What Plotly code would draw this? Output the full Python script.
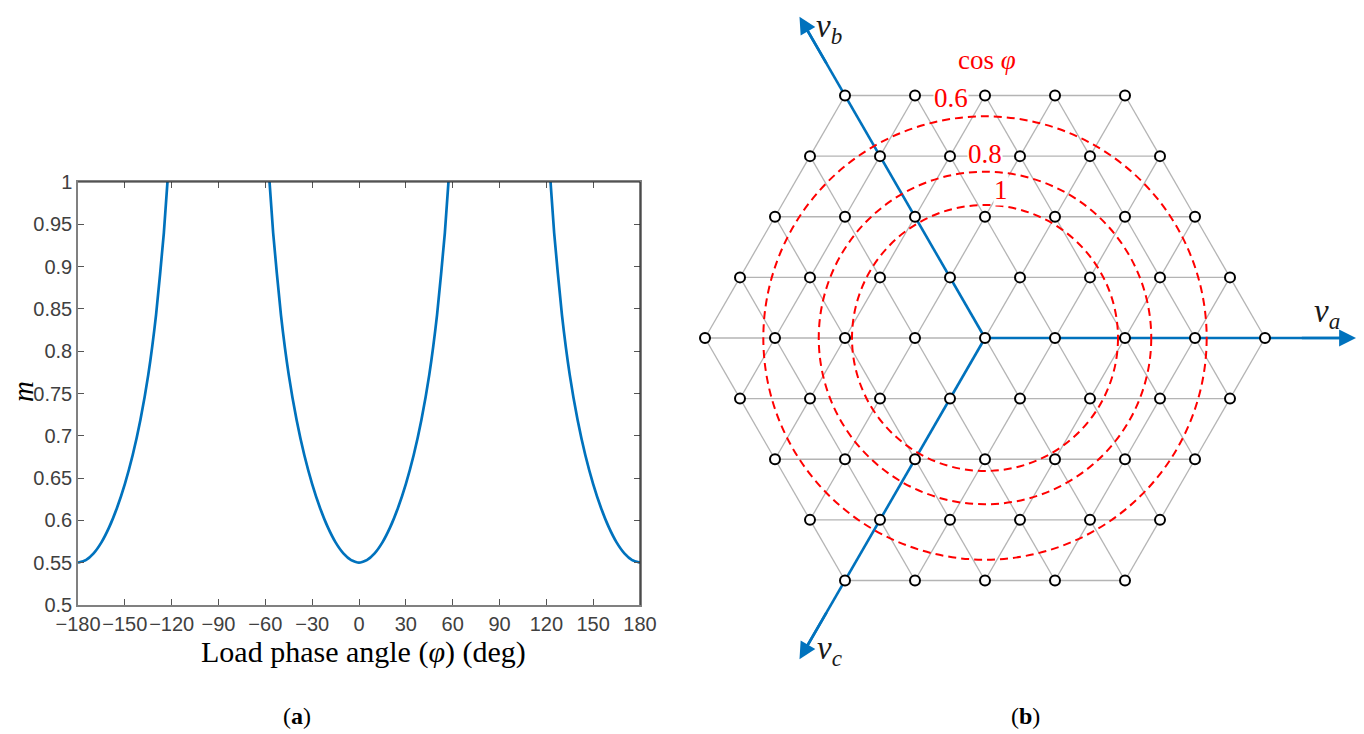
import math
import plotly.graph_objects as go

# page is offset by the browser's default body margin; compensate
OFF = 8
W, H = 1364 - OFF, 734 - OFF

# ---------------- Panel (a) data ----------------
phi_deg = [-180, -175, -170, -165, -160, -155, -150, -145, -140, -135, -130, -125, -120, None,
           -60, -55, -50, -45, -40, -35, -30, -25, -20, -15, -10, -5, 0,
           5, 10, 15, 20, 25, 30, 35, 40, 45, 50, 55, 60, None,
           120, 125, 130, 135, 140, 145, 150, 155, 160, 165, 170, 175, 180]
m_vals = [0.550, 0.553, 0.561, 0.574, 0.592, 0.615, 0.643, 0.677, 0.719, 0.772, 0.843, 0.940, 1.07, None,
          1.07, 0.940, 0.843, 0.772, 0.719, 0.677, 0.643, 0.615, 0.592, 0.574, 0.561, 0.553, 0.550,
          0.553, 0.561, 0.574, 0.592, 0.615, 0.643, 0.677, 0.719, 0.772, 0.843, 0.940, 1.07, None,
          1.07, 0.940, 0.843, 0.772, 0.719, 0.677, 0.643, 0.615, 0.592, 0.574, 0.561, 0.553, 0.550]
x_ticks = [-180, -150, -120, -90, -60, -30, 0, 30, 60, 90, 120, 150, 180]
y_ticks = [0.5, 0.55, 0.6, 0.65, 0.7, 0.75, 0.8, 0.85, 0.9, 0.95, 1.0]
y_tick_text = ["0.5", "0.55", "0.6", "0.65", "0.7", "0.75", "0.8", "0.85", "0.9", "0.95", "1"]

# ---------------- Panel (b) data ----------------
hex_order = 4                     # lattice levels per side
cos_phi_levels = [1.0, 0.8, 0.6]  # dashed circles
r_unity = 1.9                     # circle radius at cos(phi)=1 (lattice units)
axis_len = 5.3
phase_names = ["a", "b", "c"]
phase_angles = [0, 120, 240]

SQ3 = 3 ** 0.5
fig = go.Figure()

# panel (a)
fig.add_trace(go.Scatter(x=phi_deg, y=m_vals, mode="lines", connectgaps=False,
                         line=dict(color="#0072BD", width=2.7, shape="spline", smoothing=0.5),
                         xaxis="x", yaxis="y", hoverinfo="skip", showlegend=False))

# panel (b): lattice
N = hex_order
def inside(i, j):
    return abs(i) <= N and abs(j) <= N and abs(i + j) <= N

def pt(i, j):
    return (i + j / 2.0, j * SQ3 / 2.0)

gx, gy = [], []
for i in range(-N, N + 1):
    for j in range(-N, N + 1):
        if not inside(i, j):
            continue
        for di, dj in [(1, 0), (0, 1), (-1, 1)]:
            if inside(i + di, j + dj):
                x0, y0 = pt(i, j)
                x1, y1 = pt(i + di, j + dj)
                gx += [x0, x1, None]
                gy += [y0, y1, None]
fig.add_trace(go.Scatter(x=gx, y=gy, mode="lines", line=dict(color="#b4b4b4", width=1.3),
                         xaxis="x2", yaxis="y2", hoverinfo="skip", showlegend=False))

# blue phase axes (lines)
for ang in phase_angles:
    a = math.radians(ang)
    fig.add_trace(go.Scatter(x=[0, axis_len * 0.97 * math.cos(a)], y=[0, axis_len * 0.97 * math.sin(a)],
                             mode="lines", line=dict(color="#0072BD", width=2.6),
                             xaxis="x2", yaxis="y2", hoverinfo="skip", showlegend=False))

px_, py_ = [], []
for i in range(-N, N + 1):
    for j in range(-N, N + 1):
        if inside(i, j):
            x, y = pt(i, j)
            px_.append(x)
            py_.append(y)
fig.add_trace(go.Scatter(x=px_, y=py_, mode="markers",
                         marker=dict(size=10, color="white", line=dict(color="black", width=2)),
                         xaxis="x2", yaxis="y2", hoverinfo="skip", showlegend=False))

shapes = []
for c in cos_phi_levels:
    r = r_unity / c
    shapes.append(dict(type="circle", xref="x2", yref="y2", x0=-r, y0=-r, x1=r, y1=r,
                       line=dict(color="#ff0000", width=2, dash="8px,5px"), layer="above"))

annotations = []
for name, ang in zip(phase_names, phase_angles):
    a = math.radians(ang)
    tx, ty = axis_len * math.cos(a), axis_len * math.sin(a)
    annotations.append(dict(x=tx, y=ty, xref="x2", yref="y2",
                            ax=axis_len * 0.85 * math.cos(a), ay=axis_len * 0.85 * math.sin(a),
                            axref="x2", ayref="y2", showarrow=True, arrowhead=2, arrowsize=1.3,
                            arrowwidth=2.6, arrowcolor="#0072BD", text=""))

# origin at reference pixel (985, 338), 70 px per unit
OX, OY, UNIT = 985 - OFF, 338 - OFF, 70.0
bx0, bx1 = 680 - OFF, W
x2_range = [(bx0 - OX) / UNIT, (bx1 - OX) / UNIT]
y2_range = [-(H - OY) / UNIT, OY / UNIT]

def P(x, y):
    return dict(x=(x - OFF) / W, y=1 - (y - OFF) / H, xref="paper", yref="paper",
                xanchor="center", yanchor="middle")

lab_font = dict(family="Liberation Serif", size=33, color="#1a1a1a")
for name, (lx, ly) in zip(phase_names, [(1327, 313), (829, 28), (829, 650)]):
    annotations.append(dict(**P(lx, ly), text="<i>v</i><sub><i>%s</i></sub>" % name, showarrow=False,
                            font=lab_font))

red_font = dict(family="Liberation Serif", size=27, color="#ff0000")
annotations.append(dict(**P(987, 60), text="cos <i>φ</i>", showarrow=False, font=red_font))
for txt, (lx, ly) in zip(["0.6", "0.8", "1"], [(951, 98), (985, 154), (1001, 190)]):
    annotations.append(dict(**P(lx, ly), text=txt, showarrow=False, font=red_font,
                            bgcolor="white", borderpad=0))

# panel (a) labels
annotations.append(dict(**P(363, 652), text="Load phase angle (<i>φ</i>) (deg)", showarrow=False,
                        font=dict(family="Liberation Serif", size=30, color="black")))
annotations.append(dict(**P(23, 392), text="<i>m</i>", showarrow=False, textangle=-90,
                        font=dict(family="Liberation Serif", size=29, color="black")))
annotations.append(dict(**P(297, 716), text="(<b>a</b>)", showarrow=False,
                        font=dict(family="Liberation Serif", size=24, color="black")))
annotations.append(dict(**P(1025, 716), text="(<b>b</b>)", showarrow=False,
                        font=dict(family="Liberation Serif", size=24, color="black")))

# panel (a) plot box (reference pixels)
AX0, AX1, AY0, AY1 = 78 - OFF, 640 - OFF, 182 - OFF, 605 - OFF
shapes.append(dict(type="line", xref="paper", yref="paper", x0=AX0 / W, x1=AX1 / W,
                   y0=1 - AY0 / H, y1=1 - AY0 / H, line=dict(color="#262626", width=1.2)))
shapes.append(dict(type="line", xref="paper", yref="paper", x0=AX1 / W, x1=AX1 / W,
                   y0=1 - AY0 / H, y1=1 - AY1 / H, line=dict(color="#262626", width=1.2)))

tick_font = dict(family="Liberation Sans", size=20, color="#404040")
fig.update_layout(
    width=W, height=H, margin=dict(l=0, r=0, t=0, b=0, autoexpand=False),
    paper_bgcolor="white", plot_bgcolor="white", showlegend=False,
    xaxis=dict(domain=[AX0 / W, AX1 / W], range=[-180, 180], tickvals=x_ticks,
               ticktext=[("−%d" % -v) if v < 0 else str(v) for v in x_ticks], tickangle=0,
               ticks="inside", ticklen=6, tickcolor="#555", showgrid=False, zeroline=False,
               showline=True, linecolor="#808080", linewidth=1.5, mirror="ticks",
               tickfont=tick_font, anchor="y", automargin=False),
    yaxis=dict(domain=[1 - AY1 / H, 1 - AY0 / H], range=[0.5, 1.0], tickvals=y_ticks,
               ticktext=y_tick_text, ticks="inside", ticklen=6, tickcolor="#555",
               showgrid=False, zeroline=False, showline=True, linecolor="#808080",
               linewidth=1.5, mirror="ticks", tickfont=tick_font, anchor="x", automargin=False),
    xaxis2=dict(domain=[bx0 / W, 1], range=x2_range, visible=False, anchor="y2"),
    yaxis2=dict(domain=[0, 1], range=y2_range, visible=False, anchor="x2"),
    shapes=shapes, annotations=annotations,
)

fig.write_html("out.html")
